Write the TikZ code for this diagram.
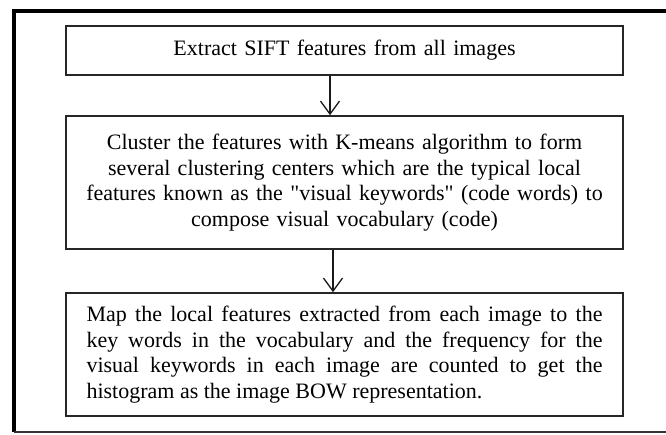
\documentclass[tikz,border=0pt]{standalone}
\usepackage{fontspec}
\setmainfont{Liberation Serif}
\newfontfamily\qfont{Liberation Serif}
\newcommand{\sq}{{\qfont"}}
\usetikzlibrary{arrows.meta}
\tikzset{
  stepbox/.style={draw=black!85, line width=1.6pt, minimum width=557pt, inner sep=0pt, font=\fontsize{22}{25.5}\selectfont},
  arr/.style={draw=black!90, line width=1.3pt, -{Straight Barb[length=13pt,width=19pt,line width=1.3pt]}},
  frame/.style={line width=4pt, black},
  framebot/.style={line width=1.2pt, black!80}
}
\begin{document}
\begin{tikzpicture}[x=1pt,y=-1pt]
\useasboundingbox (0,0) rectangle (666,434);
% outer frame
\coordinate (ftr) at (670,11);
\coordinate (ftl) at (14,11);
\coordinate (fbl) at (14,432);
\coordinate (fbr) at (670,432);
\draw[frame] (ftr) -- (ftl) -- (fbl);
\draw[framebot] (fbl) -- (fbr);
% boxes
\node[stepbox, minimum height=49pt, text width=545pt, align=center] (b1) at (344.5,50.5)
  {Extract SIFT features from all images};
\node[stepbox, minimum height=133pt, text width=545pt, align=center] (b2) at (344.5,182.5)
  {Cluster the features with K-means algorithm to form\\
   several clustering centers which are the typical local\\
   features known as the \sq visual keywords\sq{} (code words) to\\
   compose visual vocabulary (code)};
\node[stepbox, minimum height=123pt, text width=516pt, align=justify] (b3) at (344.5,354.5)
  {Map the local features extracted from each image to the\linebreak
   key words in the vocabulary and the frequency for the\linebreak
   visual keywords in each image are counted to get the\linebreak
   histogram as the image BOW representation.};
% arrows
\coordinate (ax1) at (330,0);
\coordinate (ax2) at (333,0);
\draw[arr] (b1.south -| ax1) -- (b2.north -| ax1);
\draw[arr] (b2.south -| ax2) -- (b3.north -| ax2);
\end{tikzpicture}
\end{document}
